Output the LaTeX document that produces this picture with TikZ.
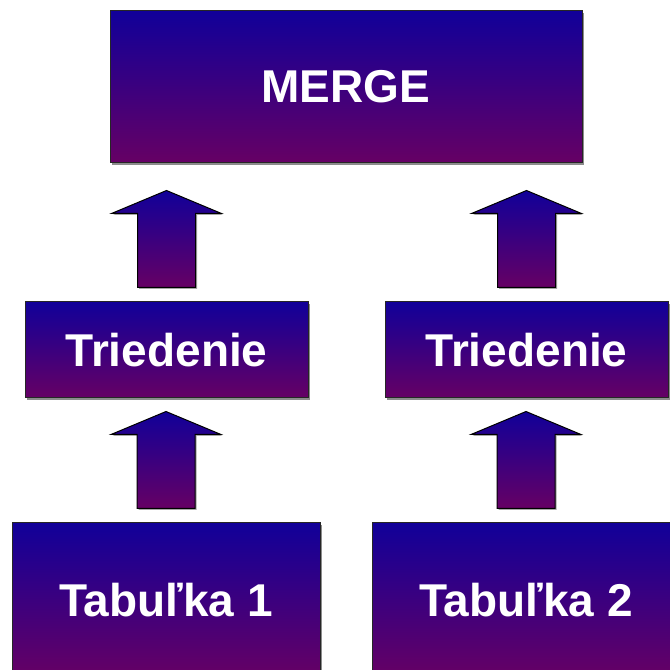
\documentclass[tikz,border=0pt]{standalone}
\usepackage{fontspec}
\setmainfont{Liberation Sans}
\usepackage{tikz}
\usetikzlibrary{calc,shadows}

\definecolor{boxtop}{RGB}{17,0,153}
\definecolor{boxbot}{RGB}{102,0,100}

% thick up-arrow standing above a node
\newcommand{\blockup}[1]{%
  \path[arrowbox] ($(#1.north)+(-29,14)$) -- ++(0,74) -- ++(-26,0) -- ++(55,23)
    -- ++(55,-23) -- ++(-26,0) -- ++(0,-74) -- cycle;}

\begin{document}
\begin{tikzpicture}[x=1pt,y=1pt,
    box/.style={draw=black!85, line width=1pt, top color=boxtop, bottom color=boxbot,
      drop shadow={shadow xshift=2pt, shadow yshift=-2pt, fill=black!45, opacity=1},
      text=white, font=\fontsize{46}{50}\selectfont\bfseries, inner sep=0pt},
    arrowbox/.style={draw=black, line width=1pt, line join=miter, top color=boxtop, bottom color=boxbot,
      drop shadow={shadow xshift=1.5pt, shadow yshift=-1.5pt, fill=black!35, opacity=1}}]
  \clip (0,0) rectangle (670,670);
  \fill[white] (0,0) rectangle (670,670);

  \node[box, minimum width=472, minimum height=152] (merge) at (346,583) {MERGE};
  \node[box, minimum width=283, minimum height=96] (tried1) at (166.5,320) {Triedenie};
  \node[box, minimum width=283, minimum height=96] (tried2) at (526.5,320) {Triedenie};
  \node[box, minimum width=308, minimum height=154] (tab1) at (166,70) {Tabuľka 1};
  \node[box, minimum width=308, minimum height=154] (tab2) at (526,70) {Tabuľka 2};

  \blockup{tab1}
  \blockup{tab2}
  \blockup{tried1}
  \blockup{tried2}
\end{tikzpicture}
\end{document}
